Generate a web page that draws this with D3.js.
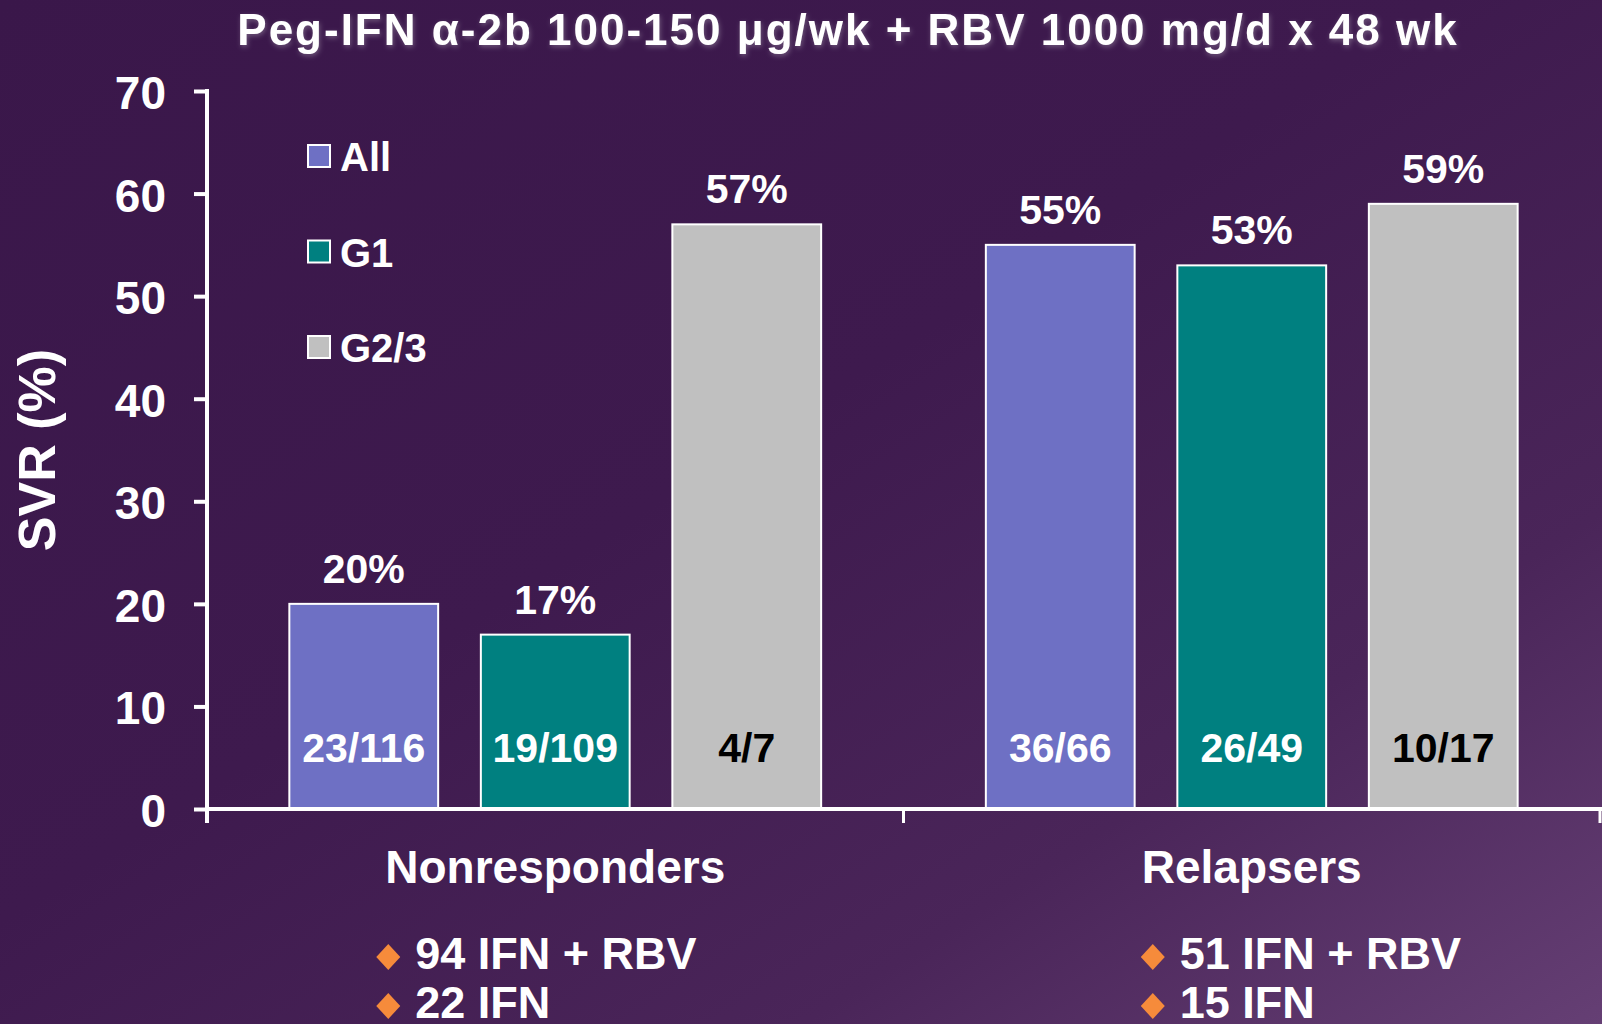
<!DOCTYPE html>
<html lang="en">
<head>
<meta charset="utf-8">
<title>SVR by prior response</title>
<script src="https://d3js.org/d3.v7.min.js"></script>
<style>
  html, body { margin: 0; padding: 0; background: #3b184b; }
  svg { display: block; }
  text { font-family: "Liberation Sans", Arial, sans-serif; font-weight: bold; }
</style>
</head>
<body>
<div id="chart"></div>
<script>
// data
var titleText = "Peg-IFN \u03b1-2b 100-150 \u03bcg/wk + RBV 1000 mg/d x 48 wk";
var categories = ["Nonresponders", "Relapsers"];
var series = ["All", "G1", "G2/3"];
var svrValues = [[20, 17, 57], [55, 53, 59]];
var fractionLabels = [["23/116", "19/109", "4/7"], ["36/66", "26/49", "10/17"]];
var seriesColors = ["#6e70c4", "#008080", "#c0c0c0"];
var fractionColors = ["#ffffff", "#ffffff", "#000000"];
var bulletLines = [["94 IFN + RBV", "22 IFN"], ["51 IFN + RBV", "15 IFN"]];
var yTicks = [0, 10, 20, 30, 40, 50, 60, 70];
var yLabel = "SVR (%)";

var width = 1602, height = 1024;

var svg = d3.select("#chart").append("svg")
  .attr("width", width)
  .attr("height", height);

// background gradient
var defs = svg.append("defs");
var grad = defs.append("linearGradient")
  .attr("id", "bg")
  .attr("x1", 0).attr("y1", 0).attr("x2", 1).attr("y2", 1);
grad.append("stop").attr("offset", 0).attr("stop-color", "#3a174a");
grad.append("stop").attr("offset", 0.45).attr("stop-color", "#3e1a4e");
grad.append("stop").attr("offset", 0.75).attr("stop-color", "#4a2559");
grad.append("stop").attr("offset", 1).attr("stop-color", "#653f74");

var glow = defs.append("filter").attr("id", "glow")
  .attr("x", "-5%").attr("y", "-40%").attr("width", "110%").attr("height", "180%");
glow.append("feDropShadow")
  .attr("dx", 1).attr("dy", 2).attr("stdDeviation", 2.5)
  .attr("flood-color", "#9a8aa2").attr("flood-opacity", 0.55);

svg.append("rect")
  .attr("width", width).attr("height", height)
  .attr("fill", "url(#bg)");

// scales
var y = d3.scaleLinear().domain([0, 70]).range([809, 91]);
var x0 = d3.scaleBand().domain(categories).range([207, 1600]).padding(0);
var x1 = d3.scaleBand().domain(series).range([0, x0.bandwidth()])
  .paddingInner(0.223).paddingOuter(0.43);

// title
svg.append("text")
  .attr("x", 848).attr("y", 45)
  .attr("text-anchor", "middle")
  .style("font-size", "44px")
  .style("letter-spacing", "2px")
  .attr("fill", "#fff")
  .attr("filter", "url(#glow)")
  .text(titleText);

// y axis
var yAxis = svg.append("g")
  .attr("transform", "translate(207,0)")
  .call(d3.axisLeft(y).tickValues(yTicks).tickSize(13).tickPadding(28).tickSizeOuter(0));
yAxis.select(".domain").remove();
yAxis.selectAll(".tick line").attr("stroke", "#fff").attr("stroke-width", 4);
yAxis.selectAll(".tick text")
  .attr("fill", "#fff")
  .attr("dy", "0.38em")
  .style("font-size", "46px");

svg.append("line")
  .attr("x1", 207).attr("x2", 207)
  .attr("y1", y(70) - 2).attr("y2", y(0) + 14)
  .attr("stroke", "#fff").attr("stroke-width", 4);

svg.append("text")
  .attr("transform", "translate(55," + ((y(0) + y(70)) / 2) + ") rotate(-90)")
  .attr("text-anchor", "middle")
  .style("font-size", "52px")
  .attr("fill", "#fff")
  .text(yLabel);

// bars
var groups = svg.selectAll(".grp")
  .data(categories)
  .enter().append("g")
  .attr("class", "grp")
  .attr("transform", function(d) { return "translate(" + x0(d) + ",0)"; });

groups.each(function(cat, ci) {
  var g = d3.select(this);
  var rows = series.map(function(s, si) {
    return { s: s, si: si, v: svrValues[ci][si], frac: fractionLabels[ci][si] };
  });

  g.selectAll("rect")
    .data(rows)
    .enter().append("rect")
    .attr("x", function(d) { return x1(d.s); })
    .attr("y", function(d) { return y(d.v); })
    .attr("width", x1.bandwidth())
    .attr("height", function(d) { return y(0) - y(d.v); })
    .attr("fill", function(d) { return seriesColors[d.si]; })
    .attr("stroke", "#fff")
    .attr("stroke-width", 2);

  g.selectAll(".val")
    .data(rows)
    .enter().append("text")
    .attr("class", "val")
    .attr("x", function(d) { return x1(d.s) + x1.bandwidth() / 2; })
    .attr("y", function(d) { return y(d.v) - 21; })
    .attr("text-anchor", "middle")
    .style("font-size", "41px")
    .attr("fill", "#fff")
    .text(function(d) { return d.v + "%"; });

  g.selectAll(".frac")
    .data(rows)
    .enter().append("text")
    .attr("class", "frac")
    .attr("x", function(d) { return x1(d.s) + x1.bandwidth() / 2; })
    .attr("y", y(0) - 47)
    .attr("text-anchor", "middle")
    .style("font-size", "41px")
    .attr("fill", function(d) { return fractionColors[d.si]; })
    .text(function(d) { return d.frac; });
});

// x axis line and boundary ticks
svg.append("line")
  .attr("x1", 205).attr("x2", 1602)
  .attr("y1", y(0)).attr("y2", y(0))
  .attr("stroke", "#fff").attr("stroke-width", 4);

var bounds = categories.map(function(c) { return x0(c); }).concat([x0.range()[1]]);
svg.selectAll(".xtick")
  .data(bounds.slice(1))
  .enter().append("line")
  .attr("class", "xtick")
  .attr("x1", function(d) { return d; }).attr("x2", function(d) { return d; })
  .attr("y1", y(0)).attr("y2", y(0) + 14)
  .attr("stroke", "#fff").attr("stroke-width", 3);

// category labels and bullet notes
categories.forEach(function(cat, ci) {
  var cx = x0(cat) + x0.bandwidth() / 2;
  var lab = svg.append("text")
    .attr("x", cx).attr("y", 883)
    .attr("text-anchor", "middle")
    .style("font-size", "46px")
    .attr("fill", "#fff")
    .text(cat);
  var left = lab.node().getBBox().x - (ci === 0 ? 10 : 2);

  bulletLines[ci].forEach(function(line, li) {
    var by = 969 + li * 49;
    var dx = left + 13, dy = by - 12;
    svg.append("path")
      .attr("d", "M" + dx + "," + (dy - 13) + "L" + (dx + 12) + "," + dy +
                 "L" + dx + "," + (dy + 13) + "L" + (dx - 12) + "," + dy + "Z")
      .attr("fill", "#f68b3b");
    svg.append("text")
      .attr("x", left + 40).attr("y", by)
      .style("font-size", "45px")
      .attr("fill", "#fff")
      .text(line);
  });
});

// legend
var legend = svg.selectAll(".legend")
  .data(series)
  .enter().append("g")
  .attr("class", "legend")
  .attr("transform", function(d, i) { return "translate(308," + (145 + i * 95.5) + ")"; });

legend.append("rect")
  .attr("width", 22).attr("height", 22)
  .attr("fill", function(d, i) { return seriesColors[i]; })
  .attr("stroke", "#fff").attr("stroke-width", 2);

legend.append("text")
  .attr("x", 32).attr("y", 26)
  .style("font-size", "40px")
  .attr("fill", "#fff")
  .text(function(d) { return d; });
</script>
</body>
</html>
